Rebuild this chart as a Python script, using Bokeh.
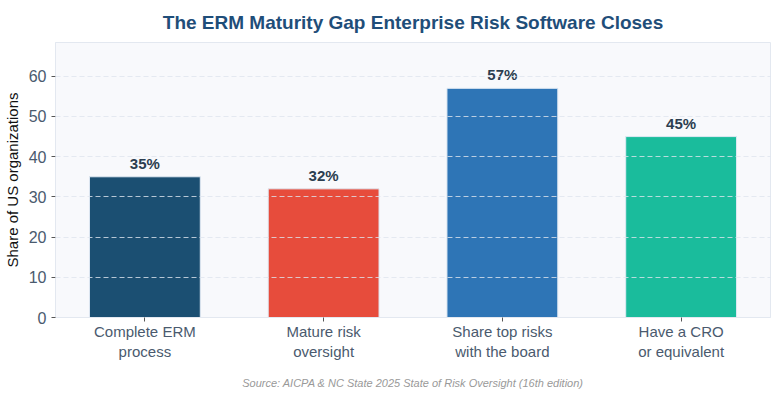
from bokeh.plotting import figure
from bokeh.models import ColumnDataSource, Range1d, FactorRange, Title
from bokeh.embed import file_html
from bokeh.resources import INLINE
from bokeh.core.properties import value

categories = ["Complete ERM\nprocess", "Mature risk\noversight", "Share top risks\nwith the board", "Have a CRO\nor equivalent"]
values = [35, 32, 57, 45]
colors = ["#1b4f72", "#e74c3c", "#2e75b6", "#1abc9c"]
labels = [f"{v}%" for v in values]

src = ColumnDataSource(dict(cat=categories, val=values, color=colors, label=labels))

FONT = "Liberation Sans"
p = figure(width=780, height=400, x_range=FactorRange(*categories), y_range=Range1d(0, 68.4),
           output_backend="svg", toolbar_location=None,
           min_border_left=10, min_border_right=10, min_border_top=10, min_border_bottom=12)
p.background_fill_color = "#f8f9fc"
p.border_fill_color = "white"
p.outline_line_color = "#e3e8f0"

p.title.text = "The ERM Maturity Gap Enterprise Risk Software Closes"
p.title.align = "center"
p.title.text_font = FONT
p.title.text_font_size = "19px"
p.title.text_font_style = "bold"
p.title.text_color = "#1f4e79"
p.title.standoff = 19

p.vbar(x="cat", top="val", width=0.62, source=src, fill_color="color", line_color="#dfe9f3", line_width=1)
p.text(x="cat", y="val", text="label", source=src, text_align="center", text_baseline="bottom",
       y_offset=-5, text_font=value(FONT), text_font_size="15px", text_font_style="bold", text_color="#2c3e50")

p.ygrid.level = "overlay"
p.ygrid.grid_line_color = "#dfe5ee"
p.ygrid.grid_line_alpha = 0.8
p.ygrid.grid_line_dash = "5 3"
p.xgrid.grid_line_color = None

p.yaxis.ticker = [0, 10, 20, 30, 40, 50, 60]
p.yaxis.axis_label = "Share of US organizations"
p.yaxis.axis_label_text_font = FONT
p.yaxis.axis_label_text_font_style = "normal"
p.yaxis.axis_label_text_font_size = "15px"
p.yaxis.axis_label_text_color = "#111111"
p.yaxis.axis_label_standoff = 5

for ax in (p.xaxis, p.yaxis):
    ax.major_label_text_font = FONT
    ax.major_label_text_font_size = "15px"
    ax.major_label_text_color = "#4a5a6e"
    ax.axis_line_color = "#e3e8f0"
    ax.major_tick_line_color = "#555555"
    ax.major_tick_out = 4
    ax.major_tick_in = 0
    ax.minor_tick_line_color = None
p.yaxis.major_label_text_font_size = "16px"
p.xaxis.major_label_standoff = 1

src_title = Title(text="Source: AICPA & NC State 2025 State of Risk Oversight (16th edition)", align="center",
                  text_font=FONT, text_font_size="11px", text_font_style="italic", text_color="#999999",
                  standoff=24)
p.add_layout(src_title, "below")

open("out.html", "w").write(file_html(p, INLINE))
